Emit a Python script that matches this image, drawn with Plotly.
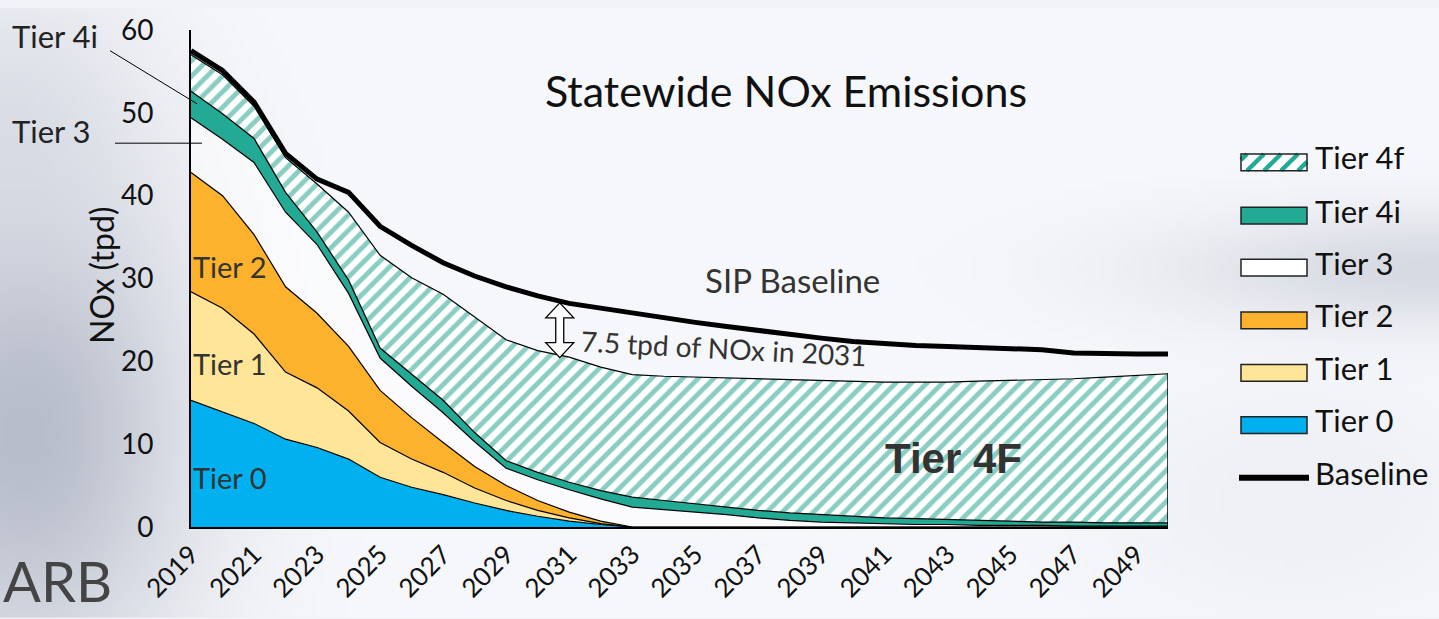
import base64
import struct
import zlib

import numpy as np
import plotly.graph_objects as go

# ---------------- data ----------------
years = list(range(2019, 2051))
tick_years = years[::2]

tier0 = [15.3, 13.9, 12.5, 10.6, 9.6, 8.2, 6.0, 4.8, 3.9, 2.9, 2.0, 1.3, 0.7, 0.3] + [0] * 18
tier1 = [13.1, 12.5, 10.8, 8.1, 7.2, 5.8, 4.2, 3.4, 2.7, 1.8, 1.2, 0.7, 0.4, 0.1] + [0] * 18
tier2 = [14.4, 13.6, 12.0, 10.3, 9.0, 7.8, 6.3, 5.0, 3.6, 2.6, 1.8, 1.2, 0.7, 0.3] + [0] * 18
tier3 = [6.6, 6.8, 8.7, 9.0, 8.3, 6.4, 3.9, 3.8, 3.6, 3.0, 2.1, 2.5, 2.7, 2.7, 2.4, 2.1,
         1.8, 1.5, 1.1, 0.8, 0.6, 0.5, 0.4, 0.3, 0.3, 0.2, 0.2, 0.2, 0.1, 0.1, 0.1, 0.1]
tier4i = [3.2, 3.1, 2.9, 2.4, 1.5, 1.6, 1.2, 1.5, 1.5, 1.1, 0.9, 0.9, 0.9, 1.0, 1.2, 1.1,
          1.0, 0.9, 0.9, 0.9, 0.9, 0.8, 0.7, 0.7, 0.6, 0.6, 0.5, 0.4, 0.5, 0.4, 0.4, 0.4]
tier4f = [4.4, 4.7, 3.9, 4.2, 5.8, 8.2, 11.2, 11.6, 12.8, 13.9, 14.6, 14.7, 15.1, 14.9, 14.8, 15.0,
          15.3, 15.6, 15.9, 16.1, 16.2, 16.3, 16.4, 16.5, 16.6, 16.8, 17.0, 17.2, 17.3, 17.6, 17.8, 18.0]
baseline = [57.5, 55.1, 51.3, 45.1, 42.0, 40.4, 36.3, 34.0, 31.9, 30.3, 29.0, 27.9, 27.0, 26.4, 25.9, 25.3,
            24.7, 24.2, 23.7, 23.2, 22.8, 22.4, 22.1, 21.9, 21.8, 21.7, 21.6, 21.4, 21.0, 20.9, 20.9, 20.9]

y_ticks = [0, 10, 20, 30, 40, 50, 60]
gap_year = 2031
gap_label = "7.5 tpd of NOx in 2031"

# ---------------- styling ----------------
W, H = 1439, 619
ML, MR, MT, MB = 191, 271, 22, 92
PW, PH = W - ML - MR, H - MT - MB
FONT = "Lato"
TEAL = "#22AA94"
STRIPE = "#169C86"
C_T0 = "#00B0EF"
C_T1 = "#FFE598"
C_T2 = "#FCB22C"
C_T3 = "rgba(255,255,255,0.55)"
DY = -5  # Lato glyphs sit a little low inside their box


def pxx(x):
    return (x - ML) / PW


def pxy(y):
    return (H - MB - y) / PH


# background gradient image
def make_bg():
    h, w = 80, 180
    yy, xx = np.mgrid[0:h, 0:w].astype(float)
    X = xx / (w - 1) * W
    Y = yy / (h - 1) * H
    img = np.zeros((h, w, 3)) + np.array([247, 248, 251], float)

    def blob(cx, cy, sx, sy, col, s):
        g = s * np.exp(-(((X - cx) / sx) ** 2 + ((Y - cy) / sy) ** 2))
        return g[..., None] * (np.array(col, float) - img)

    img += blob(20, 430, 170, 260, [180, 186, 200], 0.95)
    img += blob(0, 120, 140, 160, [208, 212, 222], 0.6)
    img += blob(1439, 265, 280, 60, [210, 213, 223], 0.85)
    img += blob(1300, 500, 200, 120, [230, 232, 239], 0.5)
    img = np.clip(img, 0, 255).astype(np.uint8)
    raw = b"".join(b"\x00" + img[i].tobytes() for i in range(h))

    def chunk(t, d):
        return struct.pack(">I", len(d)) + t + d + struct.pack(">I", zlib.crc32(t + d) & 0xFFFFFFFF)

    png = (b"\x89PNG\r\n\x1a\n" + chunk(b"IHDR", struct.pack(">IIBBBBB", w, h, 8, 2, 0, 0, 0))
           + chunk(b"IDAT", zlib.compress(raw, 9)) + chunk(b"IEND", b""))
    return "data:image/png;base64," + base64.b64encode(png).decode()


fig = go.Figure()

series = [
    ("Tier 0", tier0, C_T0, None),
    ("Tier 1", tier1, C_T1, None),
    ("Tier 2", tier2, C_T2, None),
    ("Tier 3", tier3, C_T3, None),
    ("Tier 4i", tier4i, TEAL, None),
    ("Tier 4f", tier4f, "white",
     dict(shape="/", fgcolor=STRIPE, bgcolor="white", size=11, solidity=0.45)),
]
for name, vals, col, pat in series:
    kw = dict(x=years, y=vals, name=name, stackgroup="one", mode="lines",
              line=dict(color="black", width=1.2), fillcolor=col, showlegend=False)
    if pat:
        kw["fillpattern"] = pat
    fig.add_trace(go.Scatter(**kw))

fig.add_trace(go.Scatter(x=years, y=baseline, name="Baseline", mode="lines",
                         line=dict(color="black", width=5), showlegend=False))

total = [sum(v) for v in zip(tier0, tier1, tier2, tier3, tier4i, tier4f)]

shapes = []
# right closing edge of the stacked area
shapes.append(dict(type="line", xref="x", yref="y", x0=years[-1], x1=years[-1], y0=0, y1=total[-1],
                   line=dict(color="black", width=1.5)))

# double arrow between baseline and stack in 2031
gi = years.index(gap_year)
ppu = PH / (y_ticks[-1] - y_ticks[0])
hh = (baseline[gi] - total[gi]) / 2 * ppu
mid = (baseline[gi] + total[gi]) / 2
hl, hw, sw = 15, 14, 4
path = (f"M0,{hh} L{hw},{hh-hl} L{sw},{hh-hl} L{sw},{-(hh-hl)} L{hw},{-(hh-hl)} L0,{-hh} "
        f"L{-hw},{-(hh-hl)} L{-sw},{-(hh-hl)} L{-sw},{hh-hl} L{-hw},{hh-hl} Z")
shapes.append(dict(type="path", xref="x", yref="y", xsizemode="pixel", ysizemode="pixel",
                   xanchor=gap_year - 0.3, yanchor=mid, path=path, fillcolor="white",
                   line=dict(color="black", width=1.3)))

# leader lines for outside labels
shapes.append(dict(type="line", xref="paper", yref="paper", x0=pxx(110), y0=pxy(43), x1=pxx(197), y1=pxy(97),
                   line=dict(color="black", width=1)))
shapes.append(dict(type="line", xref="paper", yref="paper", x0=pxx(115), y0=pxy(137), x1=pxx(202), y1=pxy(137),
                   line=dict(color="black", width=1)))

annotations = []


def label(text, x, y, size=28, xanchor="left", color="#333", family=FONT, angle=0):
    annotations.append(dict(text=text, xref="paper", yref="paper", x=pxx(x), y=pxy(y + DY),
                            xanchor=xanchor, yanchor="middle", showarrow=False, textangle=angle,
                            font=dict(family=family, size=size, color=color)))


# ---------------- custom legend ----------------
legend_items = [
    ("Tier 4f", "hatch"), ("Tier 4i", TEAL), ("Tier 3", "white"), ("Tier 2", C_T2),
    ("Tier 1", C_T1), ("Tier 0", C_T0), ("Baseline", "line"),
]
row_y = [156.5, 210.5, 263.5, 317, 370.5, 423.5, 477]
bx0, bx1, bh = 1241, 1307, 17
for (name, kind), cy in zip(legend_items, row_y):
    top, bot = cy - bh / 2, cy + bh / 2
    if kind == "line":
        shapes.append(dict(type="line", xref="paper", yref="paper", x0=pxx(bx0 - 2), x1=pxx(bx1 + 2),
                           y0=pxy(cy), y1=pxy(cy), line=dict(color="black", width=6)))
    elif kind == "hatch":
        shapes.append(dict(type="rect", xref="paper", yref="paper", x0=pxx(bx0), x1=pxx(bx1),
                           y0=pxy(bot), y1=pxy(top), fillcolor="white", line=dict(width=0)))
        step = 17
        x0 = bx0 - bh + 6
        while x0 < bx1:
            t0 = max(0.0, (bx0 - x0) / bh)
            t1 = min(1.0, (bx1 - x0) / bh)
            if t1 > t0:
                shapes.append(dict(type="line", xref="paper", yref="paper",
                                   x0=pxx(x0 + t0 * bh), y0=pxy(bot - t0 * bh),
                                   x1=pxx(x0 + t1 * bh), y1=pxy(bot - t1 * bh),
                                   line=dict(color=TEAL, width=4.5)))
            x0 += step
        shapes.append(dict(type="rect", xref="paper", yref="paper", x0=pxx(bx0), x1=pxx(bx1),
                           y0=pxy(bot), y1=pxy(top), fillcolor="rgba(0,0,0,0)",
                           line=dict(color="#222", width=1.5)))
    else:
        shapes.append(dict(type="rect", xref="paper", yref="paper", x0=pxx(bx0), x1=pxx(bx1),
                           y0=pxy(bot), y1=pxy(top), fillcolor=kind, line=dict(color="#222", width=1.5)))
    label(name, 1313, cy, size=31, color="#111")

label("Statewide NOx Emissions", 786, 88, size=43, xanchor="center", color="#111")
label("Tier 4i", 10, 33, size=31, color="#222")
label("Tier 3", 10, 130, size=31, color="#222")
label("Tier 2", 191, 267, size=29)
label("Tier 1", 191, 366, size=29)
label("Tier 0", 191, 482, size=29)
label("SIP Baseline", 792, 281, size=33, xanchor="center")
label(gap_label, 724, 350, size=28, xanchor="center", angle=3)
label("<b>Tier 4F</b>", 953, 462, size=42, xanchor="center", family="Liberation Sans")
label("ARB", 1, 586, size=56, color="#444")
label("NOx (tpd)", 101, 276, size=32, xanchor="center", color="#111", angle=-90)

fig.update_layout(
    width=W, height=H,
    margin=dict(l=ML, r=MR, t=MT, b=MB, pad=0),
    paper_bgcolor="#F1F3F7",
    plot_bgcolor="rgba(0,0,0,0)",
    showlegend=False,
    font=dict(family=FONT, color="#111"),
    shapes=shapes,
    annotations=annotations,
    images=[dict(source=make_bg(), xref="paper", yref="paper", x=pxx(0), y=pxy(0),
                 sizex=W / PW, sizey=H / PH, sizing="stretch", xanchor="left", yanchor="top",
                 layer="below")],
    xaxis=dict(range=[years[0], years[-1]], tickvals=tick_years, ticktext=[str(y) for y in tick_years],
               tickangle=-45, tickfont=dict(family=FONT, size=26, color="#111"),
               showline=True, linecolor="black", linewidth=2, showgrid=False, zeroline=False,
               ticks="", fixedrange=True),
    yaxis=dict(range=[y_ticks[0], y_ticks[-1]], tickvals=y_ticks,
               tickfont=dict(family=FONT, size=28, color="#111"), ticklabelstandoff=30,
               showline=True, linecolor="black", linewidth=2, showgrid=False, zeroline=False,
               ticks="", fixedrange=True),
)

fig.write_html("out.html", config={"displayModeBar": False},
               post_script="document.body.style.margin='0';")
